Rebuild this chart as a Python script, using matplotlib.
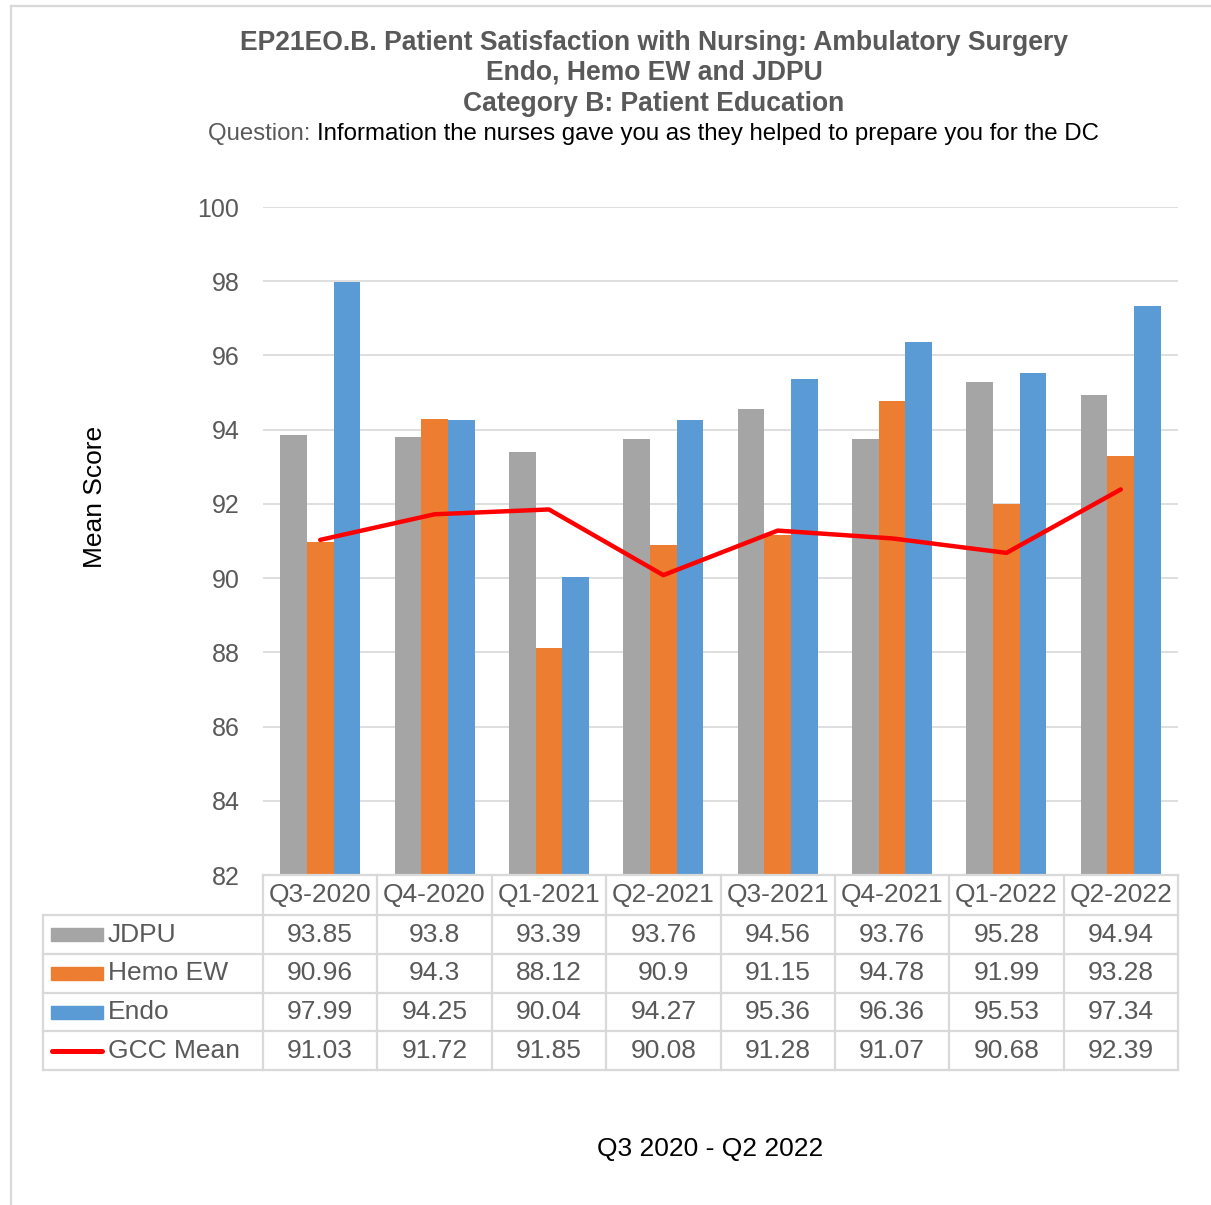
import numpy as np
import matplotlib
matplotlib.use("Agg")
import matplotlib.pyplot as plt
from matplotlib.lines import Line2D
from matplotlib.patches import Rectangle

# data
quarters = ["Q3-2020", "Q4-2020", "Q1-2021", "Q2-2021",
            "Q3-2021", "Q4-2021", "Q1-2022", "Q2-2022"]
jdpu = [93.85, 93.8, 93.39, 93.76, 94.56, 93.76, 95.28, 94.94]
hemo_ew = [90.96, 94.3, 88.12, 90.9, 91.15, 94.78, 91.99, 93.28]
endo = [97.99, 94.25, 90.04, 94.27, 95.36, 96.36, 95.53, 97.34]
gcc_mean = [91.03, 91.72, 91.85, 90.08, 91.28, 91.07, 90.68, 92.39]
series_names = ["JDPU", "Hemo EW", "Endo", "GCC Mean"]
y_ticks = [82, 84, 86, 88, 90, 92, 94, 96, 98, 100]

GRAY = "#A5A5A5"
ORANGE = "#ED7D31"
BLUE = "#5B9BD5"
RED = "#FF0000"
TXT = "#595959"
GRID = "#D9D9D9"

plt.rcParams["font.family"] = ["Liberation Sans", "DejaVu Sans"]

W, H = 1211, 1205
fig = plt.figure(figsize=(W / 100, H / 100), dpi=100)


def fx(x):
    return x / W


def fy(y):
    return 1 - y / H


# plot area in pixel terms
left, right, top, bottom = 263, 1178, 207, 875
ax = fig.add_axes([fx(left), fy(bottom), fx(right) - fx(left), fy(top) - fy(bottom)])

x = np.arange(len(quarters))
bw = 0.233
ax.bar(x - bw, jdpu, bw, color=GRAY, zorder=2)
ax.bar(x, hemo_ew, bw, color=ORANGE, zorder=2)
ax.bar(x + bw, endo, bw, color=BLUE, zorder=2)
ax.plot(x, gcc_mean, color=RED, linewidth=3.2, zorder=3, solid_capstyle="round")

ax.set_xlim(-0.5, len(quarters) - 0.5)
ax.set_ylim(82, 100)
ax.set_yticks(y_ticks)
ax.set_xticks([])
ax.yaxis.grid(True, color=GRID, linewidth=1.2, zorder=0)
ax.tick_params(axis="y", length=0, pad=17, labelsize=18, labelcolor=TXT)
for s in ax.spines.values():
    s.set_visible(False)

# data table under the plot
col_w = (right - left) / len(quarters)
row_y = [875, 915, 954, 993, 1031, 1070]
tbl_left = 43
TBL_FS = 19


def hline(x0, x1, y):
    fig.add_artist(Line2D([fx(x0), fx(x1)], [fy(y), fy(y)], color=GRID, linewidth=1.6))


def vline(x0, y0, y1):
    fig.add_artist(Line2D([fx(x0), fx(x0)], [fy(y0), fy(y1)], color=GRID, linewidth=1.6))


hline(left, right, row_y[0])
for y in row_y[1:]:
    hline(tbl_left, right, y)
vline(tbl_left, row_y[1], row_y[-1])
for i in range(len(quarters) + 1):
    vline(left + i * col_w, row_y[0], row_y[-1])

for i, q in enumerate(quarters):
    cx = left + (i + 0.5) * col_w
    fig.text(fx(cx), fy((row_y[0] + row_y[1]) / 2), q, ha="center", va="center",
             fontsize=TBL_FS, color=TXT)

rows = [jdpu, hemo_ew, endo, gcc_mean]
key_colors = [GRAY, ORANGE, BLUE, RED]
for r, (name, vals, c) in enumerate(zip(series_names, rows, key_colors)):
    cy = (row_y[r + 1] + row_y[r + 2]) / 2
    if name == "GCC Mean":
        fig.add_artist(Line2D([fx(52), fx(102)], [fy(cy), fy(cy)], color=c,
                              linewidth=3.6, solid_capstyle="round"))
    else:
        fig.add_artist(Rectangle((fx(51), fy(cy + 6.5)), fx(52), 13 / H,
                                 color=c, transform=fig.transFigure))
    fig.text(fx(108), fy(cy), name, ha="left", va="center", fontsize=TBL_FS, color=TXT)
    for i, v in enumerate(vals):
        cx = left + (i + 0.5) * col_w
        fig.text(fx(cx), fy(cy), f"{v:g}", ha="center", va="center",
                 fontsize=TBL_FS, color=TXT)

# titles
fig.text(fx(654), fy(43), "EP21EO.B. Patient Satisfaction with Nursing: Ambulatory Surgery",
         ha="center", va="center", fontsize=19.1, fontweight="bold", color=TXT)
fig.text(fx(654), fy(73), "Endo, Hemo EW and JDPU",
         ha="center", va="center", fontsize=19.1, fontweight="bold", color=TXT)
fig.text(fx(654), fy(104), "Category B: Patient Education",
         ha="center", va="center", fontsize=19.1, fontweight="bold", color=TXT)
q1 = fig.text(fx(208), fy(134), "Question: ", ha="left", va="center",
              fontsize=17.3, color=TXT)
ax.annotate("Information the nurses gave you as they helped to prepare you for the DC",
            xy=(1, 0), xycoords=q1, ha="left", va="bottom", fontsize=17.3, color="black",
            annotation_clip=False)

fig.text(fx(95), fy(497), "Mean Score", rotation=90, ha="center", va="center",
         fontsize=19, color="black")
fig.text(fx(710), fy(1149), "Q3 2020 - Q2 2022", ha="center", va="center",
         fontsize=19, color="black")

# chart border
fig.add_artist(Line2D([fx(11), fx(11)], [fy(6), 0], color=GRID, linewidth=1.6))
fig.add_artist(Line2D([fx(11), 1], [fy(6), fy(6)], color=GRID, linewidth=1.6))

fig.savefig("out.png", dpi=100)
